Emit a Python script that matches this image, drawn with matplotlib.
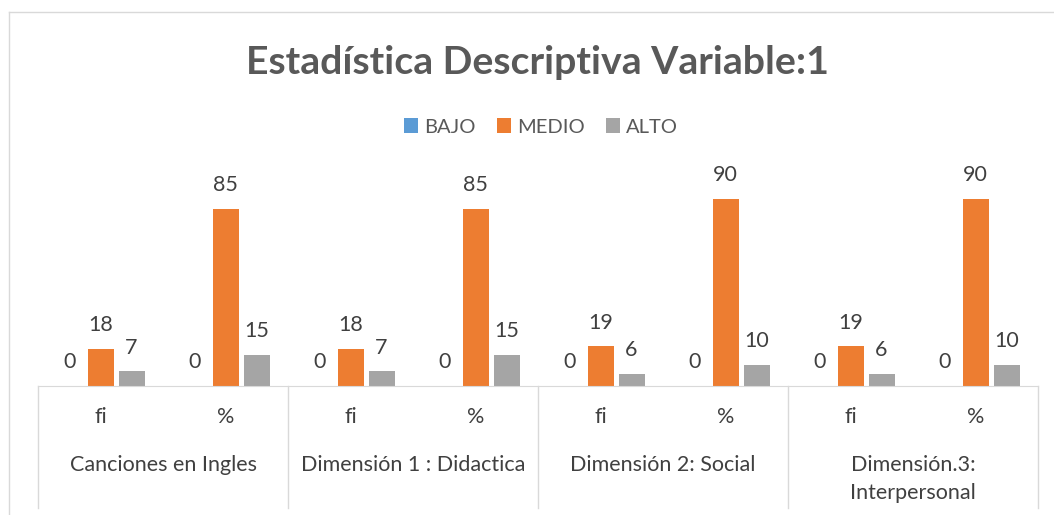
import numpy as np
import matplotlib.pyplot as plt
from matplotlib.lines import Line2D

# datos
grupos = ["Canciones en Ingles", "Dimensión 1 : Didactica",
          "Dimensión 2: Social", "Dimensión.3:\nInterpersonal"]
subcats = ["fi", "%", "fi", "%", "fi", "%", "fi", "%"]
series = ["BAJO", "MEDIO", "ALTO"]
bajo = [0, 0, 0, 0, 0, 0, 0, 0]
medio = [18, 85, 18, 85, 19, 90, 19, 90]
alto = [7, 15, 7, 15, 6, 10, 6, 10]
colores = ["#5B9BD5", "#ED7D31", "#A5A5A5"]

plt.rcParams['font.family'] = ['Lato', 'DejaVu Sans']
texto = "#404040"
fs = 15.5

fig = plt.figure(figsize=(10.54, 5.15), dpi=100)
ax = fig.add_axes([38/1054, 1-386/515, 1000/1054, 208/515])

x = np.arange(len(subcats))
ancho = 26/125
paso = 31/125
for k, (nombre, vals) in enumerate(zip(series, [bajo, medio, alto])):
    pos = x + (k-1)*paso
    ax.bar(pos, vals, ancho, color=colores[k], label=nombre, zorder=2)
    for px, v in zip(pos, vals):
        ax.text(px, v + 8.6, str(v), ha="center", va="baseline",
                fontsize=fs, color=texto)

ax.set_xlim(-0.5, len(subcats)-0.5)
ax.set_ylim(0, 100)
ax.set_xticks([])
ax.set_yticks([])
for s in ["top", "right", "left"]:
    ax.spines[s].set_visible(False)
ax.spines["bottom"].set_color("#D9D9D9")
ax.patch.set_alpha(0)

# eje de categorias en dos niveles
tr = ax.get_xaxis_transform()
def ypx(py):
    return (386 - py) / 208

for b in np.arange(-0.5, len(subcats), 2):
    ax.plot([b, b], [0, ypx(508)], transform=tr, color="#D9D9D9",
            lw=1, clip_on=False)
for i, s in enumerate(subcats):
    ax.text(i, ypx(423), s, transform=tr, ha="center", va="baseline",
            fontsize=fs, color=texto)
for j, g in enumerate(grupos):
    for n, linea in enumerate(g.split("\n")):
        ax.text(2*j + 0.5, ypx(471 + 28*n), linea, transform=tr,
                ha="center", va="baseline", fontsize=fs, color=texto)

# borde del area del grafico
fig.add_artist(Line2D([9/1054, 9/1054], [0, 1-12/515], color="#D9D9D9", lw=1))
fig.add_artist(Line2D([9/1054, 1], [1-12/515, 1-12/515], color="#D9D9D9", lw=1))

fig.text(538/1054, 1-62/515, "Estadística Descriptiva Variable:1",
         ha="center", va="center", fontsize=28.3, fontweight="bold",
         color="#595959")
fig.legend(loc="center", bbox_to_anchor=(541/1054, 1-127/515), ncol=3,
           frameon=False, fontsize=14.5, handlelength=0.7, handleheight=0.7,
           handletextpad=0.3, columnspacing=1.05, labelcolor="#595959")

fig.savefig("out.png", dpi=100)
